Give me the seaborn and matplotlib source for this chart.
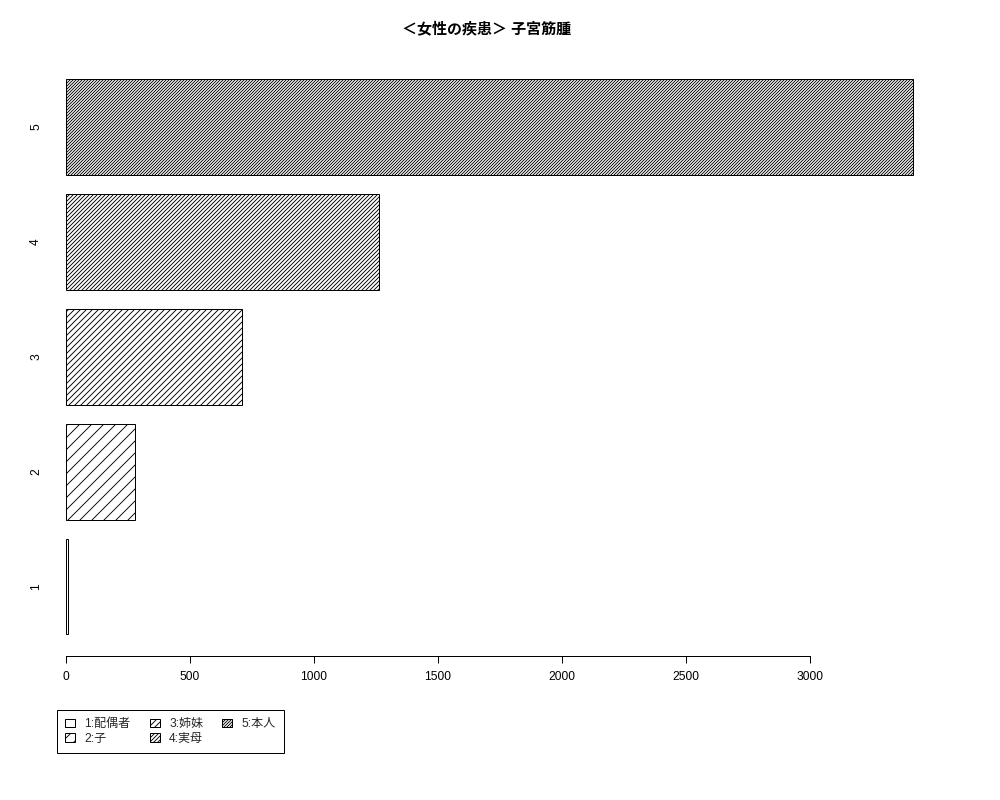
import matplotlib
matplotlib.use("Agg")
import matplotlib.pyplot as plt
import pandas as pd
import seaborn as sns
from matplotlib.patches import Patch

# data
categories = ["1", "2", "3", "4", "5"]
counts = [8, 278, 710, 1262, 3415]
legend_labels = ["1:配偶者", "2:子", "3:姉妹", "4:実母", "5:本人"]
hatches = ["", "//", "////", "//////", "////////"]
title = "＜女性の疾患＞ 子宮筋腫"

sns.set_theme(style="white")
plt.rcParams["font.family"] = ["Liberation Sans", "Noto Sans CJK JP", "DejaVu Sans"]
plt.rcParams["hatch.linewidth"] = 0.9

df = pd.DataFrame({"cat": categories, "n": counts})

fig = plt.figure(figsize=(1000 / 72, 800 / 72), dpi=72)
ax = fig.add_axes([0.05, 1 - 656 / 800, 0.90, (656 - 57) / 800])

sns.barplot(data=df, x="n", y="cat", order=categories, orient="h",
            color="white", edgecolor="black", linewidth=1.0,
            width=0.835, saturation=1, ax=ax)
for p, h in zip(ax.patches, hatches):
    p.set_hatch(h)
    p.set_facecolor("white")
    p.set_edgecolor("black")

ax.set_xlim(-64.5, 3564.5)
ax.set_ylim(-0.605, 4.61)
ax.set_xticks([0, 500, 1000, 1500, 2000, 2500, 3000])
ax.set_xlabel("")
ax.set_ylabel("")
for s in ["left", "right", "top"]:
    ax.spines[s].set_visible(False)
ax.spines["bottom"].set_bounds(0, 3000)
ax.spines["bottom"].set_color("black")
ax.spines["bottom"].set_linewidth(1)
ax.tick_params(axis="x", length=7, width=1, color="black", pad=8,
               labelsize=12, bottom=True, labelcolor="black")
ax.tick_params(axis="y", length=0, pad=8, labelsize=12, labelcolor="black")
for lab in ax.get_yticklabels():
    lab.set_rotation(90)
    lab.set_va("center")

fig.text(0.487, 1 - 29 / 800, title, ha="center", va="center",
         fontsize=15, fontweight="bold", color="black")

handles = [Patch(facecolor="white", edgecolor="black", hatch=h, linewidth=1)
           for h in hatches]
leg = fig.legend(handles, legend_labels, ncol=3, loc="upper left",
                 bbox_to_anchor=(57 / 1000, 1 - 710 / 800), fontsize=12,
                 frameon=True, fancybox=False, edgecolor="black",
                 framealpha=1, borderaxespad=0, handlelength=0.8,
                 handleheight=0.7, handletextpad=0.8, columnspacing=1.6,
                 labelspacing=0.2, borderpad=0.7)
leg.get_frame().set_linewidth(1)

fig.savefig("out.png", dpi=72)
